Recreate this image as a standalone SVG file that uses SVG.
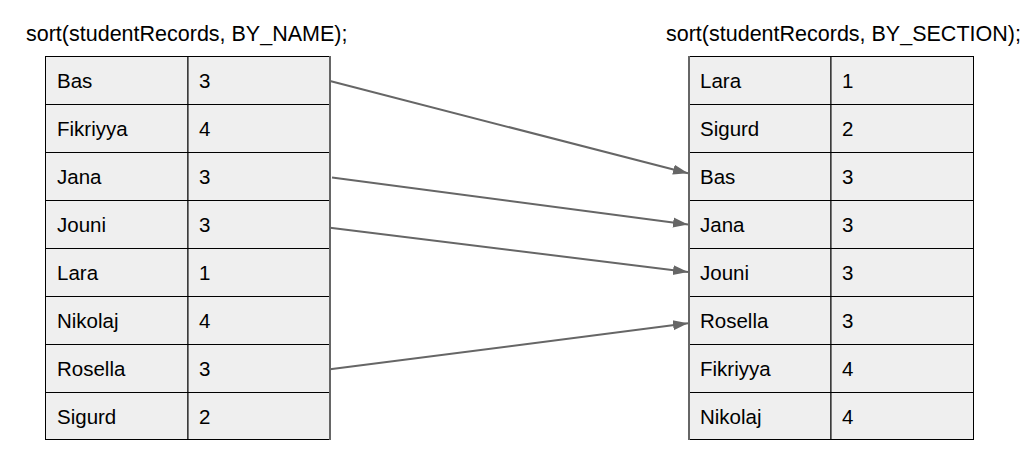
<svg xmlns="http://www.w3.org/2000/svg" width="1029" height="451" viewBox="0 0 1029 451">
<style>
.cell{fill:#efefef;stroke:#000;stroke-width:1}
.t{font-family:"Liberation Sans",Arial,sans-serif;font-size:20.5px;fill:#000}
.title{font-family:"Liberation Sans",Arial,sans-serif;font-size:21.5px;fill:#000}
.edge{stroke:#666;stroke-width:2;fill:none}
.arr{stroke:#666;stroke-width:2;fill:none;marker-end:url(#ah)}
</style>
<defs>
<marker id="ah" markerUnits="userSpaceOnUse" markerWidth="16" markerHeight="12" refX="15" refY="5" orient="auto" viewBox="0 0 16 10">
<path d="M0,0 L15,5 L0,10 z" fill="#666"/>
</marker>
</defs>
<rect width="1029" height="451" fill="#fff"/>
<text class="title" x="26" y="41">sort(studentRecords, BY_NAME);</text>
<text class="title" x="666" y="41">sort(studentRecords, BY_SECTION);</text>
<g id="left-table">
<g id="L-Bas"><rect class="cell" x="45.5" y="56.5" width="142.5" height="48"/><rect class="cell" x="188" y="56.5" width="142" height="48"/><text class="t" x="57" y="88">Bas</text><text class="t" x="199" y="88">3</text></g>
<g id="L-Fikriyya"><rect class="cell" x="45.5" y="104.5" width="142.5" height="48"/><rect class="cell" x="188" y="104.5" width="142" height="48"/><text class="t" x="57" y="136">Fikriyya</text><text class="t" x="199" y="136">4</text></g>
<g id="L-Jana"><rect class="cell" x="45.5" y="152.5" width="142.5" height="48"/><rect class="cell" x="188" y="152.5" width="142" height="48"/><text class="t" x="57" y="184">Jana</text><text class="t" x="199" y="184">3</text></g>
<g id="L-Jouni"><rect class="cell" x="45.5" y="200.5" width="142.5" height="48"/><rect class="cell" x="188" y="200.5" width="142" height="48"/><text class="t" x="57" y="232">Jouni</text><text class="t" x="199" y="232">3</text></g>
<g id="L-Lara"><rect class="cell" x="45.5" y="248.5" width="142.5" height="48"/><rect class="cell" x="188" y="248.5" width="142" height="48"/><text class="t" x="57" y="280">Lara</text><text class="t" x="199" y="280">1</text></g>
<g id="L-Nikolaj"><rect class="cell" x="45.5" y="296.5" width="142.5" height="48"/><rect class="cell" x="188" y="296.5" width="142" height="48"/><text class="t" x="57" y="328">Nikolaj</text><text class="t" x="199" y="328">4</text></g>
<g id="L-Rosella"><rect class="cell" x="45.5" y="344.5" width="142.5" height="48"/><rect class="cell" x="188" y="344.5" width="142" height="48"/><text class="t" x="57" y="376">Rosella</text><text class="t" x="199" y="376">3</text></g>
<g id="L-Sigurd"><rect class="cell" x="45.5" y="392.5" width="142.5" height="47"/><rect class="cell" x="188" y="392.5" width="142" height="47"/><text class="t" x="57" y="424">Sigurd</text><text class="t" x="199" y="424">2</text></g>
<line class="edge" x1="330" y1="56" x2="330" y2="440"/>
</g>
<g id="right-table">
<g id="R-Lara"><rect class="cell" x="689" y="56.5" width="142" height="48"/><rect class="cell" x="831" y="56.5" width="142.5" height="48"/><text class="t" x="700" y="88">Lara</text><text class="t" x="842" y="88">1</text></g>
<g id="R-Sigurd"><rect class="cell" x="689" y="104.5" width="142" height="48"/><rect class="cell" x="831" y="104.5" width="142.5" height="48"/><text class="t" x="700" y="136">Sigurd</text><text class="t" x="842" y="136">2</text></g>
<g id="R-Bas"><rect class="cell" x="689" y="152.5" width="142" height="48"/><rect class="cell" x="831" y="152.5" width="142.5" height="48"/><text class="t" x="700" y="184">Bas</text><text class="t" x="842" y="184">3</text></g>
<g id="R-Jana"><rect class="cell" x="689" y="200.5" width="142" height="48"/><rect class="cell" x="831" y="200.5" width="142.5" height="48"/><text class="t" x="700" y="232">Jana</text><text class="t" x="842" y="232">3</text></g>
<g id="R-Jouni"><rect class="cell" x="689" y="248.5" width="142" height="48"/><rect class="cell" x="831" y="248.5" width="142.5" height="48"/><text class="t" x="700" y="280">Jouni</text><text class="t" x="842" y="280">3</text></g>
<g id="R-Rosella"><rect class="cell" x="689" y="296.5" width="142" height="48"/><rect class="cell" x="831" y="296.5" width="142.5" height="48"/><text class="t" x="700" y="328">Rosella</text><text class="t" x="842" y="328">3</text></g>
<g id="R-Fikriyya"><rect class="cell" x="689" y="344.5" width="142" height="48"/><rect class="cell" x="831" y="344.5" width="142.5" height="48"/><text class="t" x="700" y="376">Fikriyya</text><text class="t" x="842" y="376">4</text></g>
<g id="R-Nikolaj"><rect class="cell" x="689" y="392.5" width="142" height="47"/><rect class="cell" x="831" y="392.5" width="142.5" height="47"/><text class="t" x="700" y="424">Nikolaj</text><text class="t" x="842" y="424">4</text></g>
<line class="edge" x1="689" y1="56" x2="689" y2="440"/>
</g>
<g id="connectors">
<line class="arr" x1="330" y1="81" x2="688" y2="173.3"/>
<line class="arr" x1="332" y1="177.5" x2="688" y2="224.5"/>
<line class="arr" x1="330" y1="227.7" x2="688" y2="272"/>
<line class="arr" x1="330" y1="369.3" x2="688" y2="323.3"/>
</g>
</svg>
